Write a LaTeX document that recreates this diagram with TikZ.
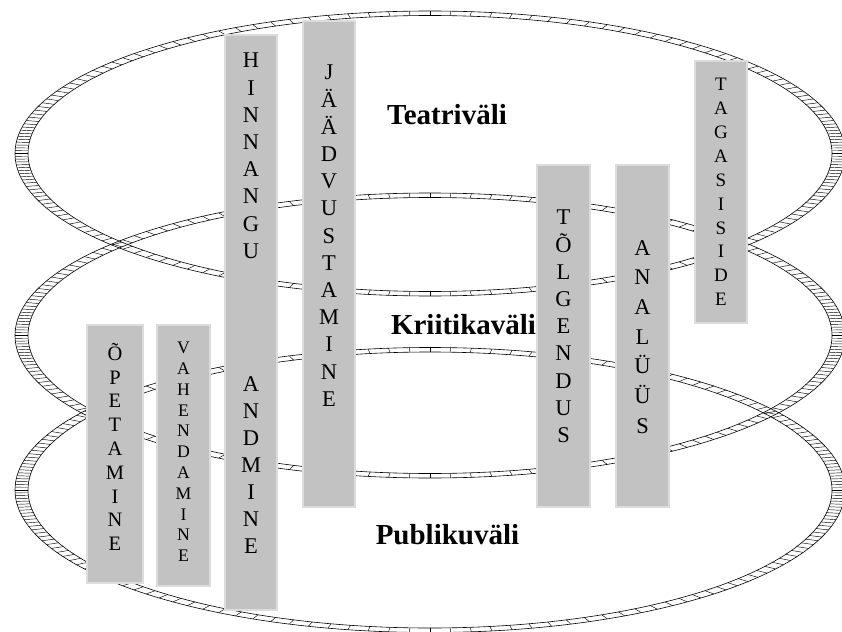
\documentclass[tikz,border=0pt]{standalone}
\usepackage{fontspec}
\setmainfont{Liberation Serif}
\usetikzlibrary{positioning}

\definecolor{barfill}{RGB}{194,194,194}
\definecolor{baredge}{RGB}{220,220,220}

\tikzset{
  bar/.style={anchor=north west, fill=barfill, draw=baredge, line width=1.2pt, inner sep=0pt, outer sep=0pt},
  word/.style={anchor=north, align=center, inner sep=0pt},
  big/.style={font=\fontsize{22.5}{27.2}\selectfont},
  mid/.style={font=\fontsize{20.5}{23.8}\selectfont},
  small/.style={font=\fontsize{17.7}{20.8}\selectfont},
  space/.style={font=\bfseries\fontsize{29}{29}\selectfont, anchor=base, inner sep=0pt},
  rim/.style={line width=0.6pt},
  tie/.style={line width=0.45pt}
}

% one level: flattened ring with cross ties
\newcommand\levelring[1]{%
  \draw[rim] (430,#1) ellipse [x radius=415, y radius=142.5];
  \draw[rim] (430,#1) ellipse [x radius=402, y radius=138];
  \foreach \p in {0,2,...,358}{
    \pgfmathsetmacro\t{\p-12.4*sin(2*\p)}
    \draw[tie] ({430+402*cos(\t)},{#1+138*sin(\t)}) -- ({430+415*cos(\t)},{#1+142.5*sin(\t)});
  }
}

\begin{document}
\begin{tikzpicture}[x=1pt,y=-1pt]
\useasboundingbox (0,0) rectangle (842,631);
\clip (0,0) rectangle (842,631);

% levels
\levelring{153.5}
\levelring{335.5}
\levelring{490}

\node[space] (teater) at (447,124.3) {Teatriväli};
\node[space] (kriitik) at (463.5,334.3) {Kriitikaväli};
\node[space] (publik) at (447.5,544) {Publikuväli};

% bars
\node[bar, minimum width=56, minimum height=258] (opet) at (87,325) {};
\node[bar, minimum width=53, minimum height=261] (vahend) at (157,325) {};
\node[bar, minimum width=52, minimum height=575] (hinn) at (225,35) {};
\node[bar, minimum width=52, minimum height=486] (jaad) at (303,21) {};
\node[bar, minimum width=53, minimum height=342] (tolg) at (537,165) {};
\node[bar, minimum width=53, minimum height=342] (anal) at (616,165) {};
\node[bar, minimum width=52, minimum height=262] (tagas) at (695,61) {};

% words
\node[word, mid, below=18pt of opet.north] (opettxt) {Õ\\P\\E\\T\\A\\M\\I\\N\\E};
\node[word, small, below=17pt of vahend.north] (vahendtxt) {V\\A\\H\\E\\N\\D\\A\\M\\I\\N\\E};
\node[word, big, below=18pt of hinn.north] (hinntxt) {H\\I\\N\\N\\A\\N\\G\\U};
\node[word, big, font=\fontsize{22.5}{26.9}\selectfont, below=341.7pt of hinn.north] (andtxt) {A\\N\\D\\M\\I\\N\\E};
\node[word, big, below=44pt of jaad.north] (jaadtxt) {J\\Ä\\Ä\\D\\V\\U\\S\\T\\A\\M\\I\\N\\E};
\node[word, big, below=45pt of tolg.north] (tolgtxt) {T\\Õ\\L\\G\\E\\N\\D\\U\\S};
\node[word, font=\fontsize{22.5}{29.7}\selectfont, below=75pt of anal.north] (analtxt) {A\\N\\A\\L\\Ü\\Ü\\S};
\node[word, font=\fontsize{19}{23.9}\selectfont, below=17pt of tagas.north] (tagastxt) {T\\A\\G\\A\\S\\I\\S\\I\\D\\E};
\end{tikzpicture}
\end{document}
